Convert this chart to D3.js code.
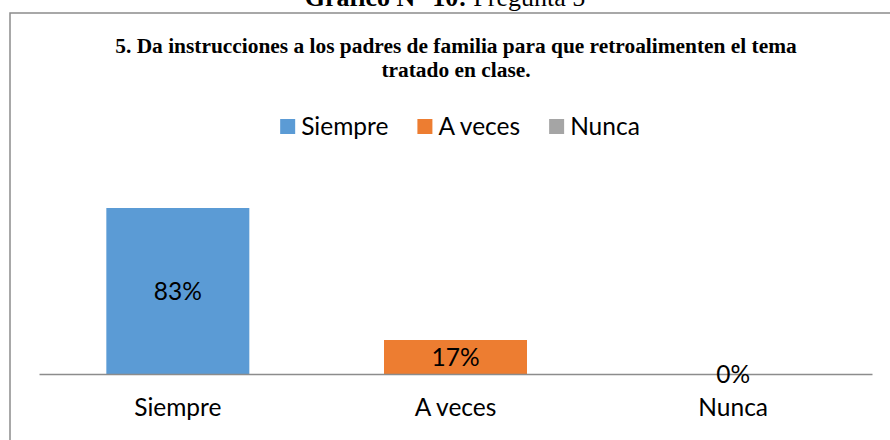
<!DOCTYPE html>
<html>
<head>
<meta charset="utf-8">
<script src="https://cdn.jsdelivr.net/npm/d3@7"></script>
<style>
  body { margin: 0; background: #fff; }
  svg { display: block; }
</style>
</head>
<body>
<div id="plot"></div>
<script>
// Chart data
const categories = ["Siempre", "A veces", "Nunca"];
const percents = [83, 17, 0];
const labels = ["83%", "17%", "0%"];
const colors = ["#5B9BD5", "#ED7D31", "#A5A5A5"];
const titleLines = [
    "5. Da instrucciones a los padres de familia para que retroalimenten el tema",
    "tratado en clase."
];

const width = 890, height = 440;
const sansFont = "Lato, 'Open Sans', sans-serif";
const serifFont = "'Liberation Serif', 'Times New Roman', serif";

const svg = d3.select("#plot")
    .append("svg")
    .attr("width", width)
    .attr("height", height);

// Caption above the frame (cut off at the top, as in the source)
const caption = svg.append("text")
    .attr("x", 445)
    .attr("y", 6)
    .attr("text-anchor", "middle")
    .attr("font-family", serifFont)
    .attr("font-size", "26px")
    .attr("fill", "#000");
caption.append("tspan").attr("font-weight", "bold").text("Gráfico N° 10:");
caption.append("tspan").text(" Pregunta 5");

// Chart frame
svg.append("rect")
    .attr("x", 10)
    .attr("y", 13)
    .attr("width", 892)
    .attr("height", 440)
    .attr("fill", "none")
    .attr("stroke", "#8c8c8c")
    .attr("stroke-width", 1.5);

// Title
svg.selectAll("text.title")
    .data(titleLines)
    .enter()
    .append("text")
    .attr("class", "title")
    .attr("x", 456)
    .attr("y", (d, i) => 53 + i * 24)
    .attr("text-anchor", "middle")
    .attr("font-family", serifFont)
    .attr("font-weight", "bold")
    .attr("font-size", "21.4px")
    .attr("fill", "#000")
    .text(d => d);

// Scales
const x = d3.scaleBand()
    .domain(categories)
    .range([39, 872])
    .paddingInner(0.485)
    .paddingOuter(0.2425);

const y = d3.scaleLinear()
    .domain([0, 100])
    .range([374, 174]);

// Legend
const legend = svg.append("g");
const items = legend.selectAll("g")
    .data(categories)
    .enter()
    .append("g");

items.append("rect")
    .attr("width", 15)
    .attr("height", 15)
    .attr("y", 119)
    .attr("fill", (d, i) => colors[i]);

items.append("text")
    .attr("y", 135)
    .attr("font-family", sansFont)
    .attr("font-size", "24.5px")
    .attr("fill", "#000")
    .text(d => d);

// lay out legend items side by side, centred
const gap = 29;
let pos = 0;
const offsets = [];
items.each(function () {
    const w = d3.select(this).select("text").node().getComputedTextLength();
    offsets.push(pos);
    pos += 15 + 6 + w + gap;
});
const total = pos - gap;
const startX = 460 - total / 2;
items.each(function (d, i) {
    const g = d3.select(this);
    g.select("rect").attr("x", startX + offsets[i]);
    g.select("text").attr("x", startX + offsets[i] + 21);
});

// Bars
svg.selectAll("rect.bar")
    .data(percents)
    .enter()
    .append("rect")
    .attr("class", "bar")
    .attr("x", (d, i) => x(categories[i]))
    .attr("y", d => y(d))
    .attr("width", x.bandwidth())
    .attr("height", d => y(0) - y(d))
    .attr("fill", (d, i) => colors[i]);

// Axis line
const axis = svg.append("g")
    .attr("transform", `translate(0,${y(0)})`)
    .call(d3.axisBottom(x).tickSize(0).tickPadding(30));
axis.select(".domain")
    .attr("stroke", "#8c8c8c")
    .attr("stroke-width", 1.5);
axis.selectAll(".tick text")
    .attr("font-family", sansFont)
    .attr("font-size", "24.5px")
    .attr("fill", "#000")
    .attr("dy", "0")
    .attr("y", 42);

// Data labels at bar centre
svg.selectAll("text.value")
    .data(percents)
    .enter()
    .append("text")
    .attr("class", "value")
    .attr("x", (d, i) => x(categories[i]) + x.bandwidth() / 2)
    .attr("y", d => (y(d) + y(0)) / 2)
    .attr("dy", "0.35em")
    .attr("text-anchor", "middle")
    .attr("font-family", sansFont)
    .attr("font-size", "24.5px")
    .attr("fill", "#000")
    .text((d, i) => labels[i]);
</script>
</body>
</html>
